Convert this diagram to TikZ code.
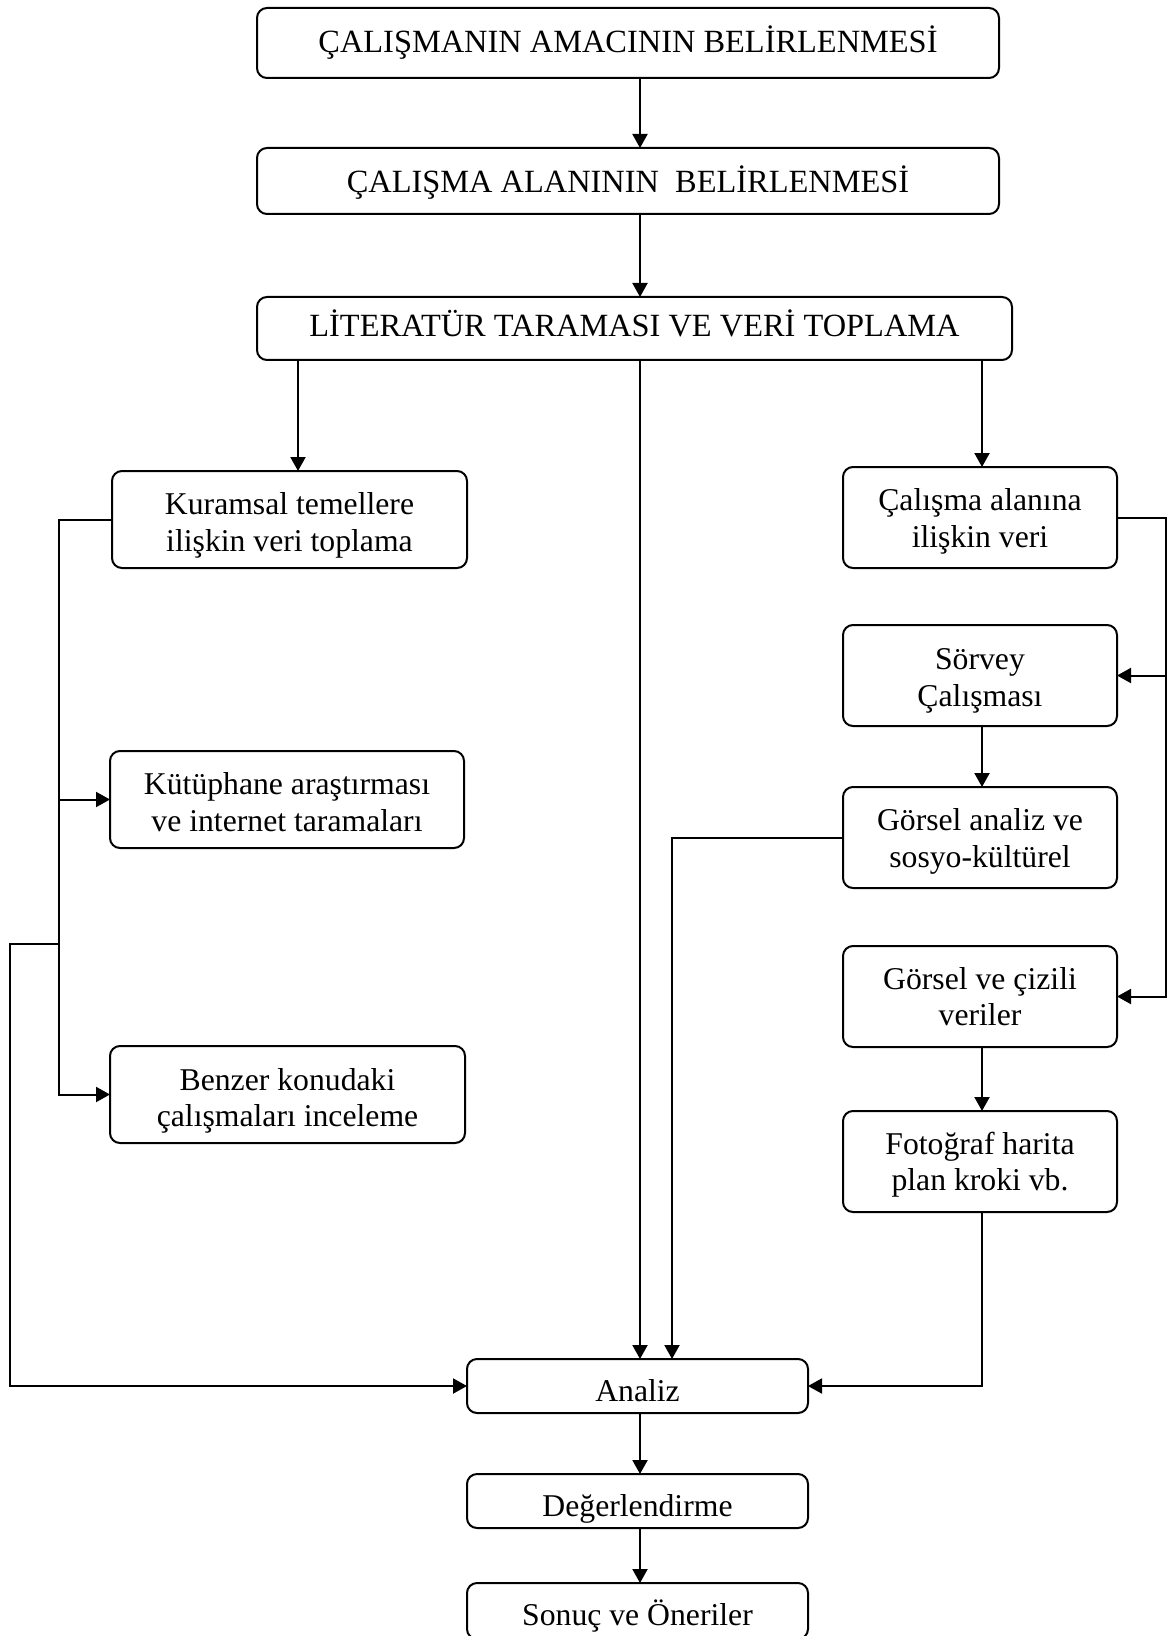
\documentclass[tikz,border=0pt]{standalone}
\usepackage{fontspec}
\setmainfont{Liberation Serif}
\usetikzlibrary{arrows.meta}
% text of a box: first baseline raised by #1 above the box centre
\newcommand\boxtext[2]{\raisebox{#1}[0pt][0pt]{\begin{tabular}[t]{@{}c@{}}#2\end{tabular}}}
\begin{document}
\begin{tikzpicture}[x=0.5pt,y=-0.5pt,
  box/.style={draw, line width=1pt, rounded corners=5pt, inner sep=0pt, outer sep=0pt,
              font=\fontsize{15.85}{18.3}\selectfont},
  wide/.style={box, minimum width=371pt, font=\fontsize{16.2}{18.3}\selectfont},
  leftbox/.style={box, minimum width=177.5pt, minimum height=48.5pt},
  rightbox/.style={box, minimum width=137pt, minimum height=50.5pt},
  lowbox/.style={box, minimum width=170.5pt, minimum height=27pt},
  conn/.style={line width=1pt},
  arr/.style={conn, -{Triangle[length=7pt,width=7.5pt]}}]
\useasboundingbox (0,0) rectangle (1169,1636);
% helper coordinates
\coordinate (mx) at (640,0);
\coordinate (lx) at (298,0);
\coordinate (rx) at (982,0);
\coordinate (gx) at (672,0);
\coordinate (kx) at (59,0);
\coordinate (ox) at (10,0);
\coordinate (ex) at (1166,0);
\coordinate (br) at (59,944);
% nodes
\node[wide, minimum height=35pt] (b1) at (628,43) {\boxtext{-5pt}{ÇALIŞMANIN AMACININ BELİRLENMESİ}};
\node[wide, minimum height=33pt] (b2) at (628,181) {\boxtext{-5.6pt}{ÇALIŞMA ALANININ\ \ BELİRLENMESİ}};
\node[wide, minimum width=377.5pt, minimum height=31.5pt] (b3) at (634.5,328.5) {\boxtext{-3.9pt}{LİTERATÜR TARAMASI VE VERİ TOPLAMA}};
\node[leftbox] (kur) at (289.5,519.5) {\boxtext{2.3pt}{Kuramsal temellere\\ilişkin veri toplama}};
\node[leftbox, minimum width=177pt] (kut) at (287,799.5) {\boxtext{2.4pt}{Kütüphane araştırması\\ve internet taramaları}};
\node[leftbox] (ben) at (287.5,1094.5) {\boxtext{2.2pt}{Benzer konudaki\\çalışmaları inceleme}};
\node[rightbox] (cal) at (980,517.5) {\boxtext{3.5pt}{Çalışma alanına\\ilişkin veri}};
\node[rightbox] (sor) at (980,675.5) {\boxtext{3pt}{Sörvey\\Çalışması}};
\node[rightbox] (gan) at (980,837.5) {\boxtext{3.5pt}{Görsel analiz ve\\sosyo-kültürel}};
\node[rightbox] (gcz) at (980,996.5) {\boxtext{3.7pt}{Görsel ve çizili\\veriler}};
\node[rightbox] (fot) at (980,1161.5) {\boxtext{3.7pt}{Fotoğraf harita\\plan kroki vb.}};
\node[lowbox] (ana) at (637.5,1386) {\boxtext{-7.6pt}{Analiz}};
\node[lowbox] (deg) at (637.5,1501) {\boxtext{-7.6pt}{Değerlendirme}};
\node[lowbox, minimum height=28pt] (son) at (637.5,1611) {\boxtext{-7.3pt}{Sonuç ve Öneriler}};
% connectors
\draw[arr] (b1.south -| mx) -- (b2.north -| mx);
\draw[arr] (b2.south -| mx) -- (b3.north -| mx);
\draw[arr] (b3.south -| lx) -- (kur.north -| lx);
\draw[arr] (b3.south -| mx) -- (ana.north -| mx);
\draw[arr] (b3.south -| rx) -- (cal.north -| rx);
% left side
\draw[arr] (kur.west) -- (kur.west -| kx) -- (ben.west -| kx) -- (ben.west);
\draw[arr] (kut.west -| kx) -- (kut.west);
\draw[arr] (br) -- (br -| ox) -- (ana.west -| ox) -- (ana.west);
% right side
\draw[arr] (cal.east) -- (cal.east -| ex) -- (gcz.east -| ex) -- (gcz.east);
\draw[arr] (sor.east -| ex) -- (sor.east);
\draw[arr] (sor.south -| rx) -- (gan.north -| rx);
\draw[arr] (gcz.south -| rx) -- (fot.north -| rx);
\draw[arr] (gan.west) -- (gan.west -| gx) -- (ana.north -| gx);
\draw[arr] (fot.south -| rx) |- (ana.east);
% bottom chain
\draw[arr] (ana.south -| mx) -- (deg.north -| mx);
\draw[arr] (deg.south -| mx) -- (son.north -| mx);
\end{tikzpicture}
\end{document}
